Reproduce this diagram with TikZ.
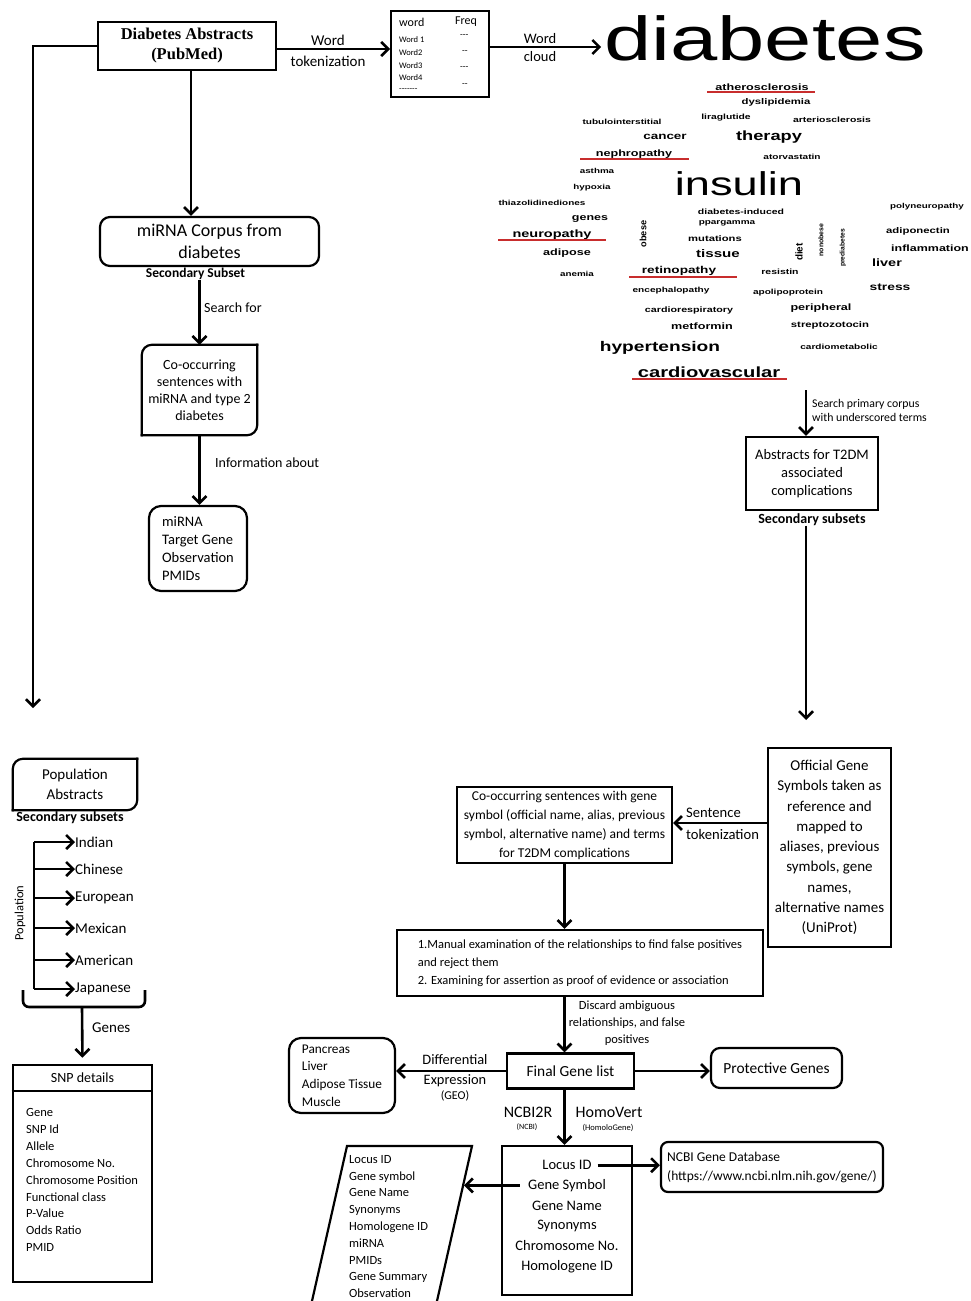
\documentclass[tikz,border=0pt]{standalone}
\usepackage{fontspec}
\setmainfont{Carlito}
\newfontfamily\cloudfont{Liberation Sans}
\newfontfamily\serfont{Liberation Serif}
\usetikzlibrary{arrows.meta,positioning}
\definecolor{ulred}{RGB}{200,45,45}
\newcommand{\fs}[2]{\fontsize{#1}{#2}\selectfont}
% box with two rounded corners (top left, bottom right)
\newcommand{\halfround}[1]{
    \draw[line width=2.2pt, line cap=rect, rounded corners=10pt] (#1.south west) -- (#1.north west) -- (#1.north east);
    \draw[line width=2.2pt, line cap=rect, rounded corners=10pt] (#1.north east) -- (#1.south east) -- (#1.south west);
}
\tikzset{
  arr/.style={line width=2.6pt,-{Straight Barb[length=7pt,width=14pt]}},
  plainbox/.style={draw,line width=2.2pt,align=center,inner sep=2pt},
  roundbox/.style={plainbox,rounded corners=9pt},
  lbl/.style={inner sep=0pt,align=center},
  subset/.style={inner sep=0pt,font=\bfseries\fs{13.5}{16}},
  cloud/.style={inner sep=0pt,font=\cloudfont},
}

\begin{document}
\begin{tikzpicture}[x=1pt,y=-1pt]
  \fill[white] (0,0) rectangle (971,1301);
  \useasboundingbox (0,0) rectangle (971,1301);

  % Primary corpus and word table
  \node[plainbox, minimum width=178pt, minimum height=48pt, font=\serfont\bfseries\fs{16.5}{20}] (abs) at (187,46) {Diabetes Abstracts\\(PubMed)};
  \node[draw, line width=2pt, minimum width=98pt, minimum height=86pt] (wtab) at (440,54) {};
  \foreach \x/\y/\s/\t [count=\k] in {399/22/12/word, 455/22/12/Freq, 399/40/8.5/Word 1, 399/53/8.5/Word2,
      399/66/8.5/Word3, 399/78/8.5/Word4, 399/90/8.5/-{}-{}-{}-{}-{}-{}-, 460/36/9/-{}-{}-, 462/52/9/-{}-,
      460/68/9/-{}-{}-, 462/85/9/-{}-} {
    \node[anchor=west, inner sep=0pt, font=\fs{\s}{\s}] (wt\k) at (\x,\y) {\t};
  }
  \draw[arr] ([yshift=-3pt]abs.east) -- ([yshift=-3pt]abs.east -| wtab.west);
  \node[lbl, font=\fs{15}{16}] (tok1) at (328,40) {Word};
  \node[lbl, font=\fs{15}{16}] (tok2) at (328,61) {tokenization};

  % Word cloud
  \node[cloud, font=\cloudfont\fs{62}{62}, anchor=base] (dia) at (765,60) {\scalebox{1.37}[1]{diabetes}};
  \draw[arr, shorten >=3pt] ([yshift=-1pt]wtab.east |- abs.east) -- ([yshift=-1pt]dia.west |- abs.east);
  \node[lbl, font=\fs{14.5}{16}] (wc1) at (540,39) {Word};
  \node[lbl, font=\fs{14.5}{16}] (wc2) at (540,57) {cloud};
  \node[cloud, font=\cloudfont\fs{33}{33}] (ins) at (739,184) {\scalebox{1.37}[1]{insulin}};
  \foreach \x/\y/\s/\w [count=\k] in {762/87/10/atherosclerosis, 776/102/9/dyslipidemia, 622/122/8/tubulointerstitial,
      726/118/8.2/liraglutide, 832/120/8.3/arteriosclerosis, 665/137/10.7/cancer, 769/137/14.5/therapy,
      634/154/10/nephropathy, 792/157/8/atorvastatin, 597/171/7.8/asthma, 592/188/7.8/hypoxia,
      542/203/7.9/thiazolidinediones, 741/212/8.3/diabetes-induced, 927/207/7.8/polyneuropathy, 590/219/9.9/genes,
      727/223/7.9/ppargamma, 552/235/11.5/neuropathy, 715/239/8.9/mutations, 918/231/9/adiponectin,
      567/253/10/adipose, 718/254/12/tissue, 930/248/9.9/inflammation, 887/263/11.5/liver, 577/274/7.8/anemia,
      679/271/10.8/retinopathy, 780/272/8.3/resistin, 890/287/11/stress, 671/291/8/encephalopathy,
      788/293/8/apolipoprotein, 821/308/10/peripheral, 689/310/8.5/cardiorespiratory, 702/326/10/metformin,
      830/325/9/streptozotocin, 660/348/15.2/hypertension, 839/347/8/cardiometabolic, 709/372/16/cardiovascular} {
    \pgfmathsetmacro\ss{0.92*\s}
    \node[cloud, font=\cloudfont\bfseries\fs{\ss}{\ss}] (cw\k) at (\x,\y) {\scalebox{1.37}[1]{\w}};
  }
  \foreach \x/\y/\s/\w [count=\k] in {643/234/10/obese, 799/252/10.8/diet, 821/240/7.5/nonobese, 843/248/7.3/prediabetes} {
    \pgfmathsetmacro\ss{0.92*\s}
    \node[cloud, rotate=90, font=\cloudfont\bfseries\fs{\ss}{\ss}] (rw\k) at (\x,\y) {\w};
  }
  % underscored terms
  \foreach \a/\b/\y in {707/815/92, 580/689/159, 498/606/240, 629/737/277, 632/787/379} {
    \draw[ulred, line width=2pt] (\a,\y) -- (\b,\y);
  }

  % miRNA branch
  \node[roundbox, rounded corners=10pt, minimum width=219pt, minimum height=49pt, font=\fs{18}{22}] (corp) at (209.5,241.5) {miRNA Corpus from\\diabetes};
  \draw[arr] ([xshift=4pt]abs.south) -- ([xshift=4pt]abs.south |- corp.north);
  \node[subset, below=1pt of corp, xshift=-14pt] (sub1) {Secondary Subset};
  \node[align=center, minimum width=115pt, minimum height=90pt, font=\fs{14}{17}] (co) at (199.5,390) {Co-occurring\\sentences with\\miRNA and type 2\\diabetes};
  \halfround{co}
  \draw[arr] (co.north |- sub1.south) -- (co.north);
  \node[lbl, anchor=west, font=\fs{14}{16}] (srchfor) at (204,308) {Search for};
  \node[roundbox, rounded corners=12pt, minimum width=98pt, minimum height=85pt, align=left, font=\fs{14.5}{18}] (mirl) at (198,548.5) {miRNA\\Target Gene\\Observation\\PMIDs};
  \draw[arr] (co.south) -- (co.south |- mirl.north);
  \node[lbl, anchor=west, font=\fs{14}{16}] (info) at (215,463) {Information about};

  % Complications branch
  \coordinate (srch) at (806,390);
  \node[plainbox, minimum width=132pt, minimum height=73pt, font=\fs{14.5}{18}] (abst) at (812,473.5) {Abstracts for T2DM\\associated\\complications};
  \draw[arr] (srch) -- (srch |- abst.north);
  \node[lbl, anchor=west, align=left, font=\fs{11.8}{14}] (srchl) at (812,410) {Search primary corpus\\with underscored terms};
  \node[subset, font=\bfseries\fs{14}{16}, below=2pt of abst] (sub2) {Secondary subsets};
  \coordinate (offin) at (806,720);
  \draw[arr] (srch |- sub2.south) -- (offin);

  \node[plainbox, minimum width=123pt, minimum height=199pt, font=\fs{15}{20.3}] (off) at (829.5,847.5) {Official Gene\\Symbols taken as\\reference and\\mapped to\\aliases, previous\\symbols, gene\\names,\\alternative names\\(UniProt)};
  \node[plainbox, inner sep=1pt, minimum width=215pt, minimum height=76pt, font=\fs{13.5}{19}] (cog) at (564.5,825) {Co-occurring sentences with gene\\symbol (official name, alias, previous\\symbol, alternative name) and terms\\for T2DM complications};
  \draw[arr] ([yshift=2pt]off.west |- cog.east) -- ([yshift=2pt]cog.east);
  \node[lbl, anchor=west, font=\fs{14.6}{16}] (st1) at (686,813) {Sentence};
  \node[lbl, anchor=west, font=\fs{14.6}{16}] (st2) at (686,834) {tokenization};

  \node[plainbox, align=left, minimum width=366pt, minimum height=66pt, font=\fs{12.5}{18}] (man) at (580,963) {1.Manual examination of the relationships to find false positives\\and reject them\\2. Examining for assertion as proof of evidence or association};
  \draw[arr] (cog.south) -- (cog.south |- man.north);

  \node[plainbox, minimum width=127pt, minimum height=35pt, font=\fs{15.4}{18}] (fin) at (570.5,1071) {Final Gene list};
  \draw[arr] (cog.south |- man.south) -- (cog.south |- fin.north);
  \node[lbl, font=\fs{12.5}{16.7}] (disc) at (627,1023) {Discard ambiguous\\relationships, and false\\positives};

  \node[roundbox, rounded corners=12pt, align=left, minimum width=106pt, minimum height=75pt, font=\fs{13.3}{17.7}] (panc) at (342,1075.5) {Pancreas\\Liver\\Adipose Tissue\\Muscle};
  \draw[arr] (fin.west) -- (panc.east |- fin.west);
  \node[lbl, font=\fs{14.4}{16}] (diff) at (455,1060) {Differential};
  \node[lbl, font=\fs{14.4}{16}] (expr) at (455,1081) {Expression};
  \node[lbl, font=\fs{12}{14}] (geo) at (455,1096) {(GEO)};

  \node[roundbox, minimum width=131pt, minimum height=40pt, font=\fs{15.4}{18}] (prot) at (776.5,1068) {Protective Genes};
  \draw[arr] (fin.east) -- (prot.west |- fin.east);

  % Gene details
  \node[plainbox, minimum width=130pt, minimum height=149pt] (locus) at (567,1220.5) {};
  \foreach \t [count=\k] in {Locus ID, Gene Symbol, Gene Name, Synonyms, Chromosome No., Homologene ID} {
    \node[lbl, font=\fs{14.5}{16}] (loc\k) at (567,1145+20.2*\k) {\t};
  }
  \draw[arr] (cog.south |- fin.south) -- (cog.south |- locus.north);
  \node[lbl, font=\fs{16}{18}] (ncbir) at (528,1112) {NCBI2R};
  \node[lbl, font=\fs{8}{9}] (ncbis) at (527,1127) {(NCBI)};
  \node[lbl, font=\fs{16}{18}] (homv) at (609,1112) {HomoVert};
  \node[lbl, font=\fs{8.5}{9}] (homs) at (608,1128) {(HomoloGene)};

  \node[roundbox, rounded corners=7pt, align=left, minimum width=222pt, minimum height=50pt, font=\fs{13.5}{19}] (ncbi) at (772,1167) {NCBI Gene Database\\(https://www.ncbi.nlm.nih.gov/gene/)};
  \draw[arr] ([xshift=6pt]loc1.east) -- (loc1.east -| ncbi.west);

  \draw[line width=2.2pt] (312,1301) -- (347,1146) -- (472,1146) -- (437,1301);
  \node[lbl, anchor=north west, align=left, font=\fs{12.5}{16.8}] (gdet) at (349,1155) {Locus ID\\Gene symbol\\Gene Name\\Synonyms\\Homologene ID\\miRNA\\PMIDs\\Gene Summary\\Observation};
  \coordinate (gdetin) at (464,1185);
  \draw[arr] ([xshift=-8pt]loc2.west) -- (gdetin |- loc2.west);

  % Population branch
  \coordinate (popin) at (33,708);
  \draw[arr] (abs.west) -| (popin);
  \node[align=center, minimum width=124pt, minimum height=51pt, font=\fs{15}{20}] (pop) at (75,784.5) {Population\\Abstracts};
  \halfround{pop}
  \node[subset, font=\bfseries\fs{14}{16}, below=1pt of pop, xshift=-5pt] (sub3) {Secondary subsets};
  \coordinate (popl) at (34,842);
  \foreach \t/\y [count=\k] in {Indian/842, Chinese/869, European/898, Mexican/928, American/960, Japanese/989} {
    \node[lbl, anchor=west, font=\fs{15}{16}] (pc\k) at (75,\y) {\t};
    \draw[arr] (popl |- pc\k.west) -- (pc\k.west);
  }
  \draw[line width=2.6pt] (popl |- pc1.west) -- (popl |- pc6.west);
  \node[lbl, rotate=90, font=\fs{12.5}{14}] (poplab) at (20,913) {Population};
  \draw[line width=2.6pt, rounded corners=6pt] (23,990) -- (23,1007) -- (145,1007) -- (145,990);
  \coordinate (brace) at (82,1007);

  % SNP table
  \node[draw, line width=2.6pt, minimum width=139pt, minimum height=217pt] (snp) at (82.5,1173.5) {};
  \coordinate (snpsep) at (0,1091);
  \draw[line width=2.6pt] (snp.west |- snpsep) -- (snp.east |- snpsep);
  \node[lbl, font=\fs{14}{16}] (snph) at (82.5,1078) {SNP details};
  \foreach \t [count=\k] in {Gene, SNP Id, Allele, Chromosome No., Chromosome Position, Functional class, P-Value, Odds Ratio, PMID} {
    \node[lbl, anchor=west, font=\fs{12.5}{14}] (snp\k) at (26,1096+16.8*\k) {\t};
  }
  \draw[arr, shorten >=6pt] (brace) -- (snp.north);
  \node[lbl, anchor=west, font=\fs{15}{16}] (genes) at (92,1028) {Genes};
\end{tikzpicture}
\end{document}
